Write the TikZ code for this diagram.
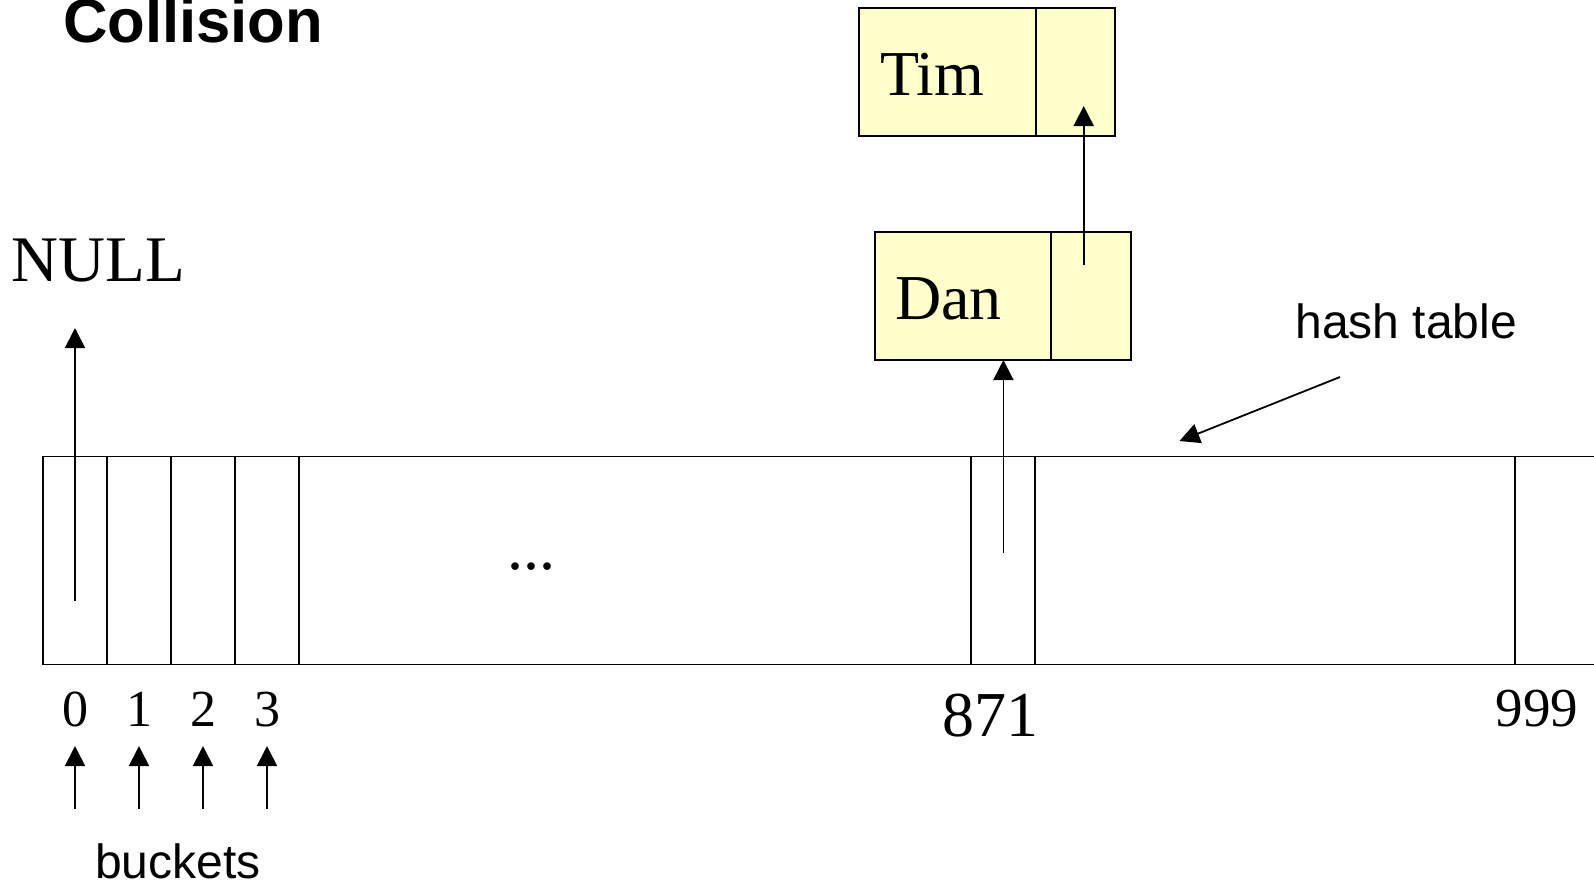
\documentclass[tikz,border=0pt]{standalone}
\usepackage{fontspec}
\setmainfont{Liberation Serif}
\newfontfamily\arialfont{Liberation Sans}
\usetikzlibrary{arrows.meta}
\definecolor{nodeyellow}{RGB}{255,255,204}
\tikzset{
  cell/.style={draw=black, line width=1.8pt, rectangle, inner sep=0pt, outer sep=0pt, minimum height=208pt, anchor=north west},
  part/.style={draw=black, line width=1.8pt, fill=nodeyellow, rectangle, inner sep=0pt, outer sep=0pt, anchor=north west},
  arr/.style={line width=1.8pt, -{Triangle[width=20pt,length=20pt]}},
  serif/.style={inner sep=0pt, outer sep=0pt},
  sans/.style={inner sep=0pt, outer sep=0pt, font=\arialfont},
}
\begin{document}
\begin{tikzpicture}[x=1pt,y=-1pt]
\useasboundingbox (0,0) rectangle (1594,884);
% title
\node[sans, anchor=base west, font=\arialfont\bfseries\fontsize{61.6}{62}\selectfont] (title) at (63,42.3) {Collision};
% hash table cells
\node[cell, minimum width=64pt] (c0) at (43,456.5) {};
\node[cell, minimum width=64pt] (c1) at (107,456.5) {};
\node[cell, minimum width=64pt] (c2) at (171,456.5) {};
\node[cell, minimum width=64pt] (c3) at (235,456.5) {};
\node[cell, minimum width=672pt] (cdots) at (299,456.5) {};
\node[cell, minimum width=64pt] (c871) at (971,456.5) {};
\node[cell, minimum width=480pt] (cmid) at (1035,456.5) {};
\node[cell, minimum width=100pt] (c999) at (1515,456.5) {};
% dots
\node[serif, anchor=base west, font=\fontsize{64}{64}\selectfont] (dots) at (507,569) {...};
% list nodes
\node[part, minimum width=176.7pt, minimum height=127.7pt] (timdata) at (859,8.3) {};
\node[part, minimum width=79.6pt, minimum height=127.7pt] (timnext) at (1035.7,8.3) {};
\node[part, minimum width=176pt, minimum height=127.7pt] (dandata) at (875.3,232.3) {};
\node[part, minimum width=80pt, minimum height=127.7pt] (dannext) at (1051.3,232.3) {};
\node[serif, anchor=base west, font=\fontsize{64}{64}\selectfont] (tim) at (880,95.7) {Tim};
\node[serif, anchor=base west, font=\fontsize{64}{64}\selectfont] (dan) at (895,319.3) {Dan};
% NULL
\node[serif, anchor=base west, font=\fontsize{65}{65}\selectfont] (null) at (12,281) {NULL};
% index labels
\node[serif, anchor=base, font=\fontsize{52}{52}\selectfont] (l0) at (75.5,726) {0};
\node[serif, anchor=base, font=\fontsize{52}{52}\selectfont] (l1) at (139.5,726) {1};
\node[serif, anchor=base, font=\fontsize{52}{52}\selectfont] (l2) at (203.5,726) {2};
\node[serif, anchor=base, font=\fontsize{52}{52}\selectfont] (l3) at (267.5,726) {3};
\node[serif, anchor=base, font=\fontsize{64}{64}\selectfont] (l871) at (990,736.7) {871};
\node[serif, anchor=base, font=\fontsize{55}{55}\selectfont] (l999) at (1537,726.7) {999};
% side labels
\node[sans, anchor=base west, font=\arialfont\fontsize{48}{48}\selectfont] (hash) at (1295.5,338) {hash table};
\node[sans, anchor=base west, font=\arialfont\fontsize{48}{48}\selectfont] (buckets) at (95,878) {buckets};
% connector end points
\coordinate (p0) at (75,601);
\coordinate (pnull) at (75,328);
\coordinate (p871) at (1003.4,552.5);
\coordinate (pdantail) at (1083.7,265);
\coordinate (ptim) at (1083.7,106);
\coordinate (hashtail) at (1340,377);
\coordinate (hashtip) at (1179.5,441);
\foreach \i/\x in {0/75,1/139,2/203,3/267}{
  \coordinate (bt\i) at (\x,809);
  \coordinate (bh\i) at (\x,746);
}
% connectors
\draw[arr] (p0) -- (pnull);
\draw[arr] (p871) -- (p871 |- dandata.south);
\draw[arr] (pdantail) -- (ptim);
\draw[arr] (hashtail) -- (hashtip);
\foreach \i in {0,1,2,3}{
  \draw[arr] (bt\i) -- (bh\i);
}
\end{tikzpicture}
\end{document}
